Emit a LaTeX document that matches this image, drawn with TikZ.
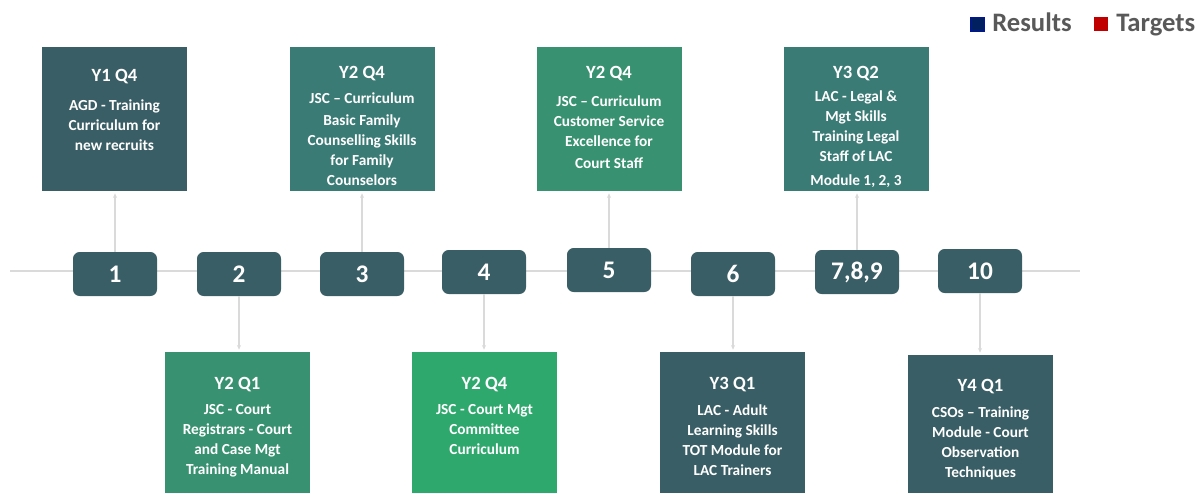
\documentclass[tikz,border=0pt]{standalone}
\usepackage{fontspec}
\setmainfont{Carlito}
\usetikzlibrary{positioning,arrows.meta}

\definecolor{slate}{RGB}{58,94,101}
\definecolor{teal}{RGB}{59,123,118}
\definecolor{leaf}{RGB}{56,145,112}
\definecolor{mint}{RGB}{46,168,109}
\definecolor{navy}{RGB}{0,32,96}
\definecolor{redsq}{RGB}{192,0,0}
\definecolor{legendgrey}{RGB}{89,89,89}
\definecolor{linegrey}{RGB}{218,218,218}

\tikzset{
  numbox/.style={fill=slate, rounded corners=5pt, minimum width=63pt, minimum height=33pt,
    inner sep=0pt, text=white, font=\fontsize{19}{21}\selectfont\bfseries},
  card/.style={minimum width=108.75pt, minimum height=108pt, inner sep=0pt},
  lowcard/.style={card, minimum height=105.75pt},
  cardhead/.style={anchor=base, inner sep=0pt, text=white, font=\fontsize{14}{16}\selectfont\bfseries},
  cardbody/.style={anchor=north, inner sep=0pt, align=center, text=white,
    font=\fontsize{11.5}{15}\selectfont\bfseries},
  link/.style={draw=linegrey, line width=0.8pt, shorten >=1.5pt, -{Stealth[length=3.5pt,width=3pt]}},
  legsq/.style={minimum size=10.5pt, inner sep=0pt},
  legtxt/.style={anchor=base west, inner sep=0pt, text=legendgrey, font=\fontsize{20}{22}\selectfont\bfseries}
}

\begin{document}
\begin{tikzpicture}[x=0.75pt,y=-0.75pt]
  \useasboundingbox (0,0) rectangle (1201,493);

  % timeline
  \coordinate (tlstart) at (10,271);
  \coordinate (tlend) at (1080,271);
  \draw[linegrey, line width=1.5pt] (tlstart) -- (tlend);

  % milestones
  \node[numbox] (n1) at (115,274) {1};
  \node[numbox] (n2) at (239,274) {2};
  \node[numbox] (n3) at (362,274) {3};
  \node[numbox] (n4) at (484,272) {4};
  \node[numbox] (n5) at (609,270) {5};
  \node[numbox] (n6) at (733,274) {6};
  \node[numbox] (n7) at (857,272) {7,8,9};
  \node[numbox] (n10) at (980,271) {10};

  % upper cards
  \node[card, fill=slate] (c1) at (114.5,119) {};
  \node[cardhead] (c1h) at (114.5,81) {Y1 Q4};
  \node[cardbody] (c1b) at (114.5,99) {AGD - Training\\Curriculum for\\new recruits};

  \node[card, fill=teal] (c3) at (362,119) {};
  \node[cardhead] (c3h) at (362,78) {Y2 Q4};
  \node[cardbody] (c3b) at (362,92) {JSC -- Curriculum\\[2pt]Basic Family\\Counselling Skills\\for Family\\Counselors};

  \node[card, fill=leaf] (c5) at (609,119) {};
  \node[cardhead] (c5h) at (609,78) {Y2 Q4};
  \node[cardbody] (c5b) at (609,95) {JSC -- Curriculum\\Customer Service\\Excellence for\\[2pt]Court Staff};

  \node[card, fill=teal] (c7) at (856,119) {};
  \node[cardhead] (c7h) at (856,78) {Y3 Q2};
  \node[cardbody] (c7b) at (856,90) {LAC - Legal \&\\Mgt Skills\\Training Legal\\Staff of LAC\\[3pt]Module 1, 2, 3};

  % lower cards
  \node[lowcard, fill=leaf] (c2) at (237.5,422.5) {};
  \node[cardhead] (c2h) at (237.5,389) {Y2 Q1};
  \node[cardbody] (c2b) at (237.5,404) {JSC - Court\\Registrars - Court\\and Case Mgt\\Training Manual};

  \node[lowcard, fill=mint] (c4) at (484.5,422.5) {};
  \node[cardhead] (c4h) at (484.5,389) {Y2 Q4};
  \node[cardbody] (c4b) at (484.5,404) {JSC - Court Mgt\\Committee\\Curriculum};

  \node[lowcard, fill=slate] (c6) at (732.5,422.5) {};
  \node[cardhead] (c6h) at (732.5,389) {Y3 Q1};
  \node[cardbody] (c6b) at (732.5,404) {LAC - Adult\\Learning Skills\\TOT Module for\\LAC Trainers};

  \node[card, fill=slate, minimum height=103.5pt] (c10) at (980.5,424) {};
  \node[cardhead] (c10h) at (980.5,391) {Y4 Q1};
  \node[cardbody] (c10b) at (980.5,406) {CSOs -- Training\\Module - Court\\Observation\\Techniques};

  % connectors
  \draw[link] (n1.north) -- (n1.north |- c1.south);
  \draw[link] (n3.north) -- (n3.north |- c3.south);
  \draw[link] (n5.north) -- (n5.north |- c5.south);
  \draw[link] (n7.north) -- (n7.north |- c7.south);
  \draw[link] (n2.south) -- (n2.south |- c2.north);
  \draw[link] (n4.south) -- (n4.south |- c4.north);
  \draw[link] (n6.south) -- (n6.south |- c6.north);
  \draw[link] (n10.south) -- (n10.south |- c10.north);

  % legend
  \node[legsq, fill=navy, draw=blue!45!navy, line width=0.6pt] (ressq) at (977.5,24) {};
  \node[legtxt] (restxt) at (992,31) {Results};
  \node[legsq, fill=redsq] (tarsq) at (1101,24) {};
  \node[legtxt] (tartxt) at (1116,31) {Targets};
\end{tikzpicture}
\end{document}
